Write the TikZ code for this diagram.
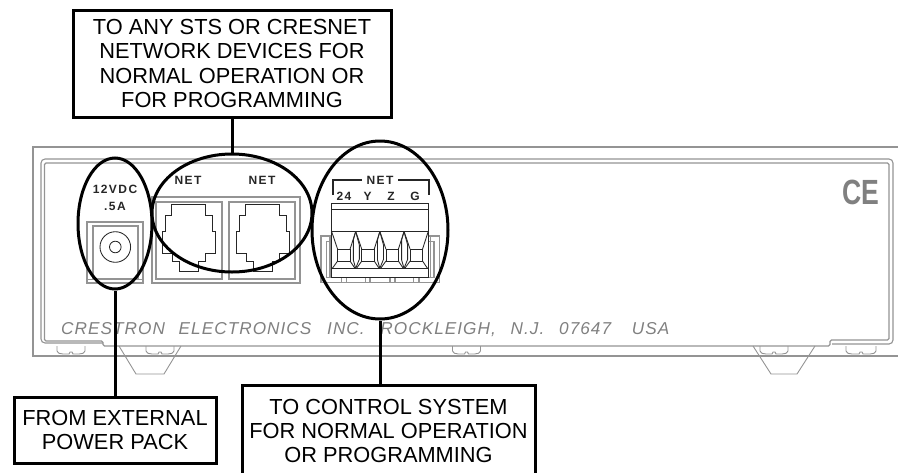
\documentclass[tikz,border=0pt]{standalone}
\usepackage{fontspec}
\setmainfont{Liberation Sans}
\newfontfamily\grayfont[LetterSpace=6]{Liberation Sans}
\newfontfamily\spfont[LetterSpace=12]{Liberation Sans}
\usetikzlibrary{shapes.geometric}
\definecolor{devgray}{gray}{0.58}
\definecolor{txtgray}{gray}{0.5}
\tikzset{
  dev/.style={draw=devgray,line width=1.1pt},
  blk/.style={draw=black!85,line width=0.85pt},
  callout/.style={draw=black,line width=3pt,inner sep=0pt,align=center,font=\fontsize{21.8}{24.2}\selectfont},
  ring/.style={draw=black,line width=3pt,ellipse,inner sep=0pt},
  lead/.style={draw=black,line width=3pt},
  lab/.style={inner sep=0pt,font=\fontsize{12}{12}\selectfont\spfont\bfseries,text=black!85},
}
\newcommand{\screwfoot}[2]{\draw[dev,line width=0.9pt] (#1,346) -- (#1,351) .. controls (#1,353) and (#1+3,354) .. (#1+6,354) -- (#1+#2/2-2,354) -- (#1+#2/2-1,352) -- (#1+#2/2+1,352) -- (#1+#2/2+2,354) -- (#1+#2-6,354) .. controls (#1+#2-3,354) and (#1+#2,353) .. (#1+#2,351) -- (#1+#2,346);}
\begin{document}
\begin{tikzpicture}[x=1pt,y=-1pt]
\useasboundingbox (0,0) rectangle (898,472);
% housing
\draw[dev] (898,147) -- (33,147) -- (33,356) -- (898,356);
\draw[dev,rounded corners=4pt] (832,344) -- (893,344) -- (893,159) -- (41,159) -- (41,343) -- (103,343);
\draw[dev,rounded corners=1.5pt] (44.5,341) -- (44.5,163) -- (889,163) -- (889,340) -- (830,340) -- (830,346) -- (103,346) -- (103,341) -- cycle;
% feet
\screwfoot{57}{28}
\screwfoot{146}{28}
\screwfoot{452.5}{28}
\screwfoot{760}{28}
\screwfoot{846}{30}
\draw[dev,line width=0.9pt] (119,346) -- (136,374) -- (164,374) -- (181,346);
\draw[dev,line width=0.9pt] (753,346) -- (771,374) -- (797,374) -- (815,346);
% power jack
\draw[dev] (87,222) rectangle (143,283);
\draw[dev] (93,226) rectangle (138,279);
\draw[dev,line width=.8pt] (87,279) -- (143,279);
\draw[blk] (115.3,247) circle (15.3);
\draw[blk] (115.3,247) circle (5.8);
% RJ housing
\draw[dev] (152,197) rectangle (300,283);
\draw[dev] (156,202) rectangle (222,279);
\draw[dev] (229,202) rectangle (295,279);
\foreach \dx in {0,74}{
\begin{scope}[shift={(70+\dx,190)},x=0.3333pt,y=-0.3333pt]
\draw[blk,line join=miter] (305,42) -- (305,75) -- (285,75) -- (285,125) -- (277,125) -- (277,190) -- (307,190) -- (307,213) -- (327,213) -- (327,243) -- (385,243) -- (385,213) -- (405,213) -- (405,190) -- (435,190) -- (435,125) -- (427,125) -- (427,75) -- (405,75) -- (405,42) -- cycle;
\end{scope}}
% terminal block
\begin{scope}[shift={(300,190)},x=0.3333pt,y=-0.3333pt]
\draw[dev] (63,138) rectangle (418,278);
\draw[dev] (80,263) -- (80,155) -- (95,155);
\draw[dev] (402,263) -- (402,155) -- (385,155);
\draw[dev] (90,263) -- (90,142);
\draw[dev] (392,263) -- (392,142);
\draw[dev] (80,263) -- (402,263);
\foreach \t in {125,140,197,210,270,285,340,357}{\draw[dev] (\t,263) -- (\t,278);}
\draw[blk,fill=white,line width=1.1pt] (95,40) rectangle (385,263);
\draw[blk,line width=1.4pt] (95,58) -- (385,58);
\draw[blk,line width=1.4pt] (95,125) -- (385,125);
\draw[blk,line width=1.2pt] (95,236) -- (385,236);
\foreach \d in {0,72.5,145,217.5}{
\begin{scope}[shift={(\d*0.3333pt,0pt)}]
\draw[blk] (95,125) -- (113,178) (167,125) -- (150,178) (97,235) -- (113,213) (165,235) -- (150,213);
\draw[blk] (113,178) rectangle (150,213);
\end{scope}}
\foreach \d in {0,72.5,145}{
\begin{scope}[shift={(\d*0.3333pt,0pt)}]
\draw[blk] (167,125) -- (178,165) -- (178,208) -- (167,235);
\draw[blk] (167,125) -- (160,150) -- (160,210) -- (167,235);
\end{scope}}
\end{scope}
% printed labels
\node[lab] (l12) at (115,189) {12VDC};
\node[lab] (l5a) at (115,206) {.5A};
\node[lab] (ln1) at (188,180.5) {NET};
\node[lab] (ln2) at (262,180.5) {NET};
\node[lab] (ln3) at (380,180.5) {NET};
\node[lab] (t24) at (344,196) {24};
\node[lab] (ty) at (367.5,196) {Y};
\node[lab] (tz) at (391,196) {Z};
\node[lab] (tg) at (415,196) {G};
\draw[line width=2pt,black!85] (332.5,194.5) -- (332.5,180) -- (362,180);
\draw[line width=2pt,black!85] (398,180) -- (429,180) -- (429,194.5);
\node[inner sep=0pt,text=txtgray,font=\fontsize{17.2}{18}\selectfont\grayfont\itshape,anchor=west] (maker) at (61,330) {CRESTRON\hspace{8pt} ELECTRONICS\hspace{10pt} INC.\hspace{10pt} ROCKLEIGH,\hspace{9pt} N.J.\hspace{9pt} 07647\hspace{15pt} USA};
\node[inner sep=0pt,text=txtgray,font=\fontsize{35}{36}\selectfont\bfseries,xscale=0.76] (ce) at (861,192) {CE};
% rings
\node[ring,minimum width=74pt,minimum height=131pt] (e1) at (115,223.5) {};
\node[ring,minimum width=160pt,minimum height=118pt] (e2) at (232,213) {};
\node[ring,minimum width=136pt,minimum height=178pt] (e3) at (380,230) {};
% callouts
\node[callout,minimum width=318pt,minimum height=107pt] (b1) at (232,63.5) {TO ANY STS OR CRESNET\\NETWORK DEVICES FOR\\NORMAL OPERATION OR\\FOR PROGRAMMING};
\node[callout,minimum width=202pt,minimum height=66pt] (b2) at (115,430) {FROM EXTERNAL\\POWER PACK};
\begin{scope}
\clip (0,0) rectangle (898,472);
\node[callout,minimum width=293pt,minimum height=92pt] (b3) at (388.5,431) {TO CONTROL SYSTEM\\FOR NORMAL OPERATION\\OR PROGRAMMING};
\end{scope}
\draw[lead] (b1.south) -- (e2.north);
\draw[lead] (e1.south) -- (b2.north);
\draw[lead] (e3.south) -- (e3.south |- b3.north);
\end{tikzpicture}
\end{document}
